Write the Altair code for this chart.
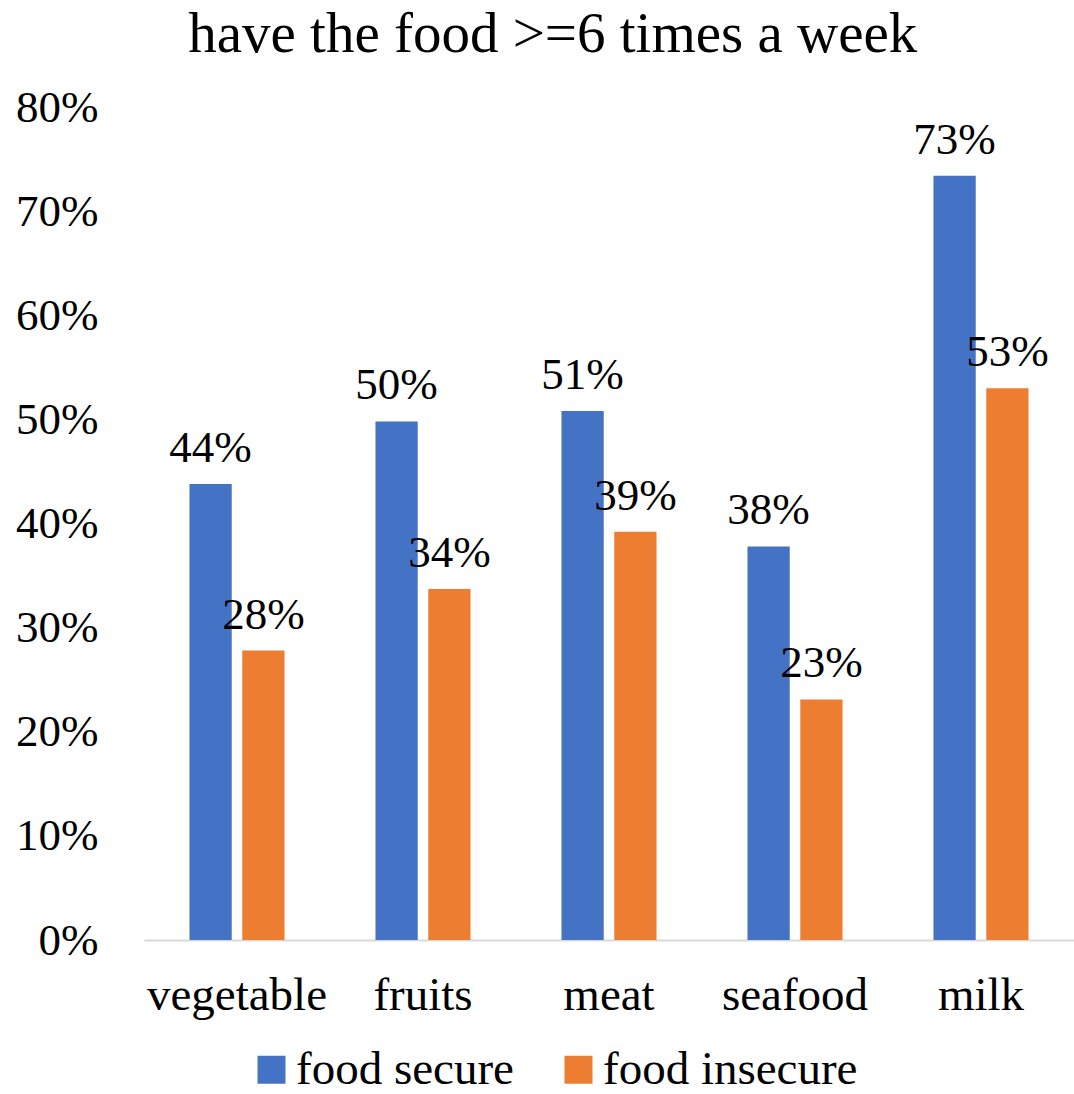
import altair as alt
import pandas as pd

categories = ["vegetable", "fruits", "meat", "seafood", "milk"]
series = ["food secure", "food insecure"]
secure = [0.438, 0.498, 0.508, 0.378, 0.734]
insecure = [0.278, 0.337, 0.392, 0.231, 0.530]
colors = ["#4472C4", "#ED7D31"]

rows = []
for c, s, i in zip(categories, secure, insecure):
    rows.append({"food": c, "group": series[0], "value": s})
    rows.append({"food": c, "group": series[1], "value": i})
df = pd.DataFrame(rows)

FONT = "Liberation Serif"

x = alt.X("food:N", sort=categories, title=None,
          scale=alt.Scale(paddingInner=0.489, paddingOuter=0.2445),
          axis=alt.Axis(labelAngle=0, labelFontSize=47, labelFont=FONT, labelColor="black",
                        ticks=False, domainColor="#d9d9d9", domainWidth=2,
                        labelPadding=32, labelLimit=500))
y = alt.Y("value:Q", title=None,
          scale=alt.Scale(domain=[0, 0.8], nice=False),
          axis=alt.Axis(format=".0%", values=[0, 0.1, 0.2, 0.3, 0.4, 0.5, 0.6, 0.7, 0.8],
                        grid=False, domain=False, ticks=False, labelPadding=46,
                        labelFontSize=45, labelFont=FONT, labelColor="black"))
xo = alt.XOffset("group:N", sort=series, scale=alt.Scale(paddingInner=0.2, paddingOuter=0))
color = alt.Color("group:N", sort=series, title=None,
                  scale=alt.Scale(domain=series, range=colors),
                  legend=alt.Legend(orient="none", legendX=104, legendY=939, direction="horizontal",
                                    symbolType="square", symbolSize=784, symbolStrokeWidth=0,
                                    labelFontSize=47, labelFont=FONT, labelColor="black",
                                    labelOffset=1, columnPadding=41, labelLimit=500))

bars = alt.Chart(df).mark_bar().encode(x=x, y=y, xOffset=xo, color=color)
labels = alt.Chart(df).mark_text(font=FONT, fontSize=45, baseline="alphabetic", dy=-22, color="black").encode(
    x=alt.X("food:N", sort=categories), y="value:Q", xOffset=xo,
    text=alt.Text("value:Q", format=".0%"))

chart = alt.layer(bars, labels).properties(
    width=930, height=833,
    background="white",
    title=alt.Title("have the food >=6 times a week", font=FONT, fontSize=57, fontWeight="normal",
                    color="black", anchor="middle", frame="bounds", offset=-24, dx=8,
                    baseline="alphabetic"),
    autosize=alt.AutoSizeParams(type="none"),
    padding={"left": 144, "top": 107, "right": 0, "bottom": 154},
).configure_view(strokeWidth=0, stroke="transparent")

chart.save("out.html", embed_options={"renderer": "svg", "actions": False})
